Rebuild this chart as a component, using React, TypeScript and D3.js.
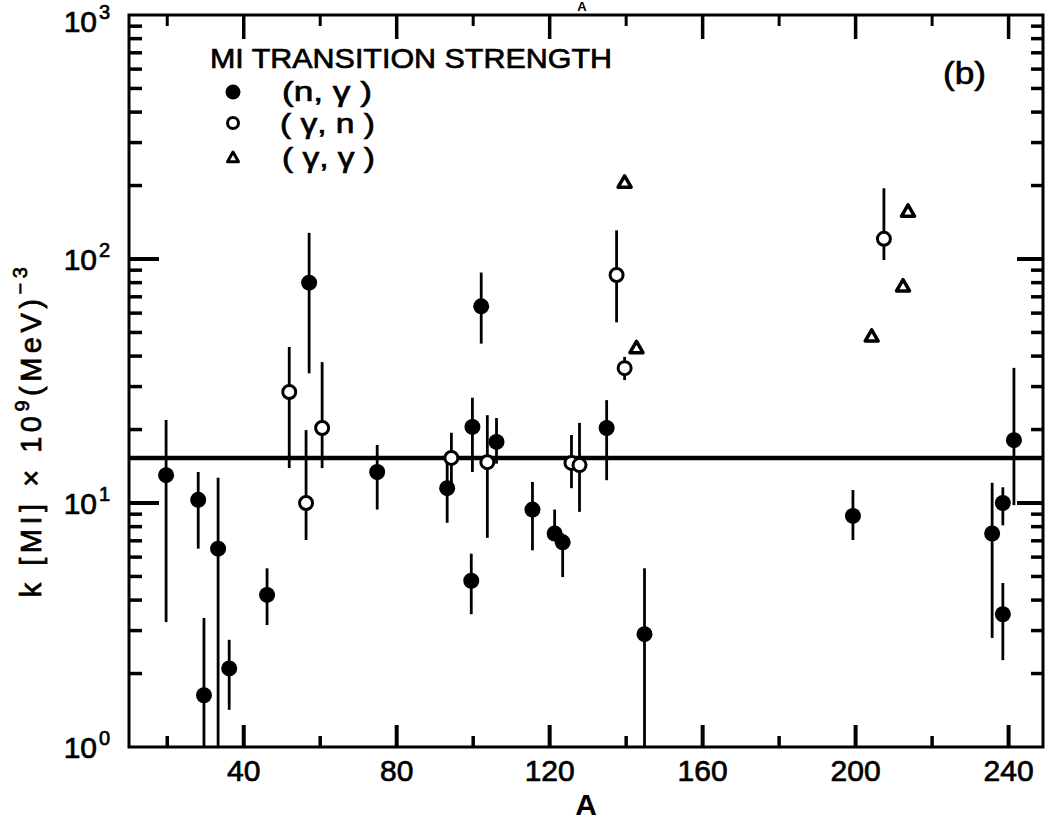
import React from "react";
import * as d3 from "d3";

const W = 1047;
const H = 822;

// (n,γ) — filled circles
const ngA = [19.7, 28.1, 29.6, 33.3, 36.2, 46.1, 57.1, 74.9, 93.2, 99.5, 99.8, 102.1, 106.1, 115.5, 121.3, 123.4, 134.9, 144.8, 199.3, 235.7, 238.5, 238.5, 241.4];
const ngK = [13.0, 10.3, 1.63, 6.5, 2.1, 4.2, 80, 13.4, 11.5, 4.8, 20.5, 64, 17.8, 9.4, 7.5, 6.9, 20.3, 2.9, 8.85, 7.5, 3.5, 10.0, 18.1];
const ngLo = [3.25, 6.5, 1.0, 1.0, 1.42, 3.16, 34, 9.4, 8.3, 3.5, 13.4, 45, 14.5, 6.4, 7.0, 4.97, 12.4, 1.0, 7.05, 2.8, 2.27, 8.1, 9.8];
const ngHi = [21.9, 13.4, 3.38, 12.7, 2.75, 5.4, 128, 17.3, 15.0, 6.2, 27, 88, 22.3, 12.2, 9.4, 7.5, 26.4, 5.4, 11.3, 12.1, 4.7, 11.6, 35.8];

// (γ,n) — open circles
const gnA = [51.9, 56.3, 60.5, 94.3, 103.7, 125.7, 127.8, 137.5, 139.6, 207.4];
const gnK = [28.5, 10.0, 20.3, 15.3, 14.7, 14.6, 14.3, 86, 35.7, 121];
const gnLo = [13.9, 7.05, 13.9, 12.1, 7.2, 11.5, 9.2, 55, 31.9, 99];
const gnHi = [43.6, 19.9, 37.8, 19.4, 22.9, 19.0, 21.3, 131, 39.7, 195];

// (γ,γ) — triangles
const ggA = [139.6, 142.7, 204.2, 212.4, 213.7];
const ggK = [205, 43, 48, 77, 156];

// average strength line
const meanK = 15.3;

const xMajor = [40, 80, 120, 160, 200, 240];
const xMinor = [20, 60, 100, 140, 180, 220];
const yDecades = [0, 1, 2, 3];

const FONT = "'Liberation Sans', Arial, sans-serif";
const INK = { fill: "#000", stroke: "#000", strokeWidth: 0.7 };

const x = d3.scaleLinear().domain([10, 249]).range([129, 1043]);
const y = d3.scaleLog().domain([1, 1000]).range([747, 15]);

function tri(cx: number, cy: number, s: number) {
  const h = s * 0.87;
  return `M${cx},${cy - h * 0.62}L${cx + s / 2},${cy + h * 0.38}L${cx - s / 2},${cy + h * 0.38}Z`;
}

export default function App() {
  const x0 = x.range()[0];
  const x1 = x.range()[1];
  const yb = y.range()[0];
  const yt = y.range()[1];

  const minorY: number[] = [];
  [1, 10, 100].forEach((d) => {
    for (let m = 2; m <= 9; m++) minorY.push(d * m);
  });

  return (
    <div style={{ position: "absolute", left: 0, top: 0 }}>
      <svg width={W} height={H} style={{ display: "block", background: "#fff" }}>
        {/* frame */}
        <rect x={x0} y={yt} width={x1 - x0} height={yb - yt} fill="none" stroke="#000" strokeWidth={3} />

        {/* x ticks, inward on bottom and top */}
        {xMajor.map((v) => (
          <g key={"xM" + v}>
            <line x1={x(v)} x2={x(v)} y1={yb} y2={yb - 22} stroke="#000" strokeWidth={4} />
            <line x1={x(v)} x2={x(v)} y1={yt} y2={yt + 24} stroke="#000" strokeWidth={3.5} />
            <text x={x(v)} y={781} textAnchor="middle" fontFamily={FONT} fontSize={30} {...INK}>
              {v}
            </text>
          </g>
        ))}
        {xMinor.map((v) => (
          <g key={"xm" + v}>
            <line x1={x(v)} x2={x(v)} y1={yb} y2={yb - 11} stroke="#000" strokeWidth={3.5} />
            <line x1={x(v)} x2={x(v)} y1={yt} y2={yt + 11} stroke="#000" strokeWidth={3} />
          </g>
        ))}

        {/* y ticks, inward on left and right */}
        {[10, 100].map((v) => (
          <g key={"yM" + v}>
            <line x1={x0} x2={x0 + 30} y1={y(v)} y2={y(v)} stroke="#000" strokeWidth={4} />
            <line x1={x1} x2={x1 - 26} y1={y(v)} y2={y(v)} stroke="#000" strokeWidth={4} />
          </g>
        ))}
        {minorY.map((v) => (
          <g key={"ym" + v}>
            <line x1={x0} x2={x0 + 13} y1={y(v)} y2={y(v)} stroke="#000" strokeWidth={3.5} />
            <line x1={x1} x2={x1 - 12} y1={y(v)} y2={y(v)} stroke="#000" strokeWidth={3.5} />
          </g>
        ))}

        {/* y tick labels */}
        {yDecades.map((p) => (
          <text
            key={"yl" + p}
            x={97}
            y={y(Math.pow(10, p)) + (p === 3 ? 17 : 11)}
            textAnchor="end"
            fontFamily={FONT}
            fontSize={30}
            {...INK}
          >
            10
            <tspan x={99} dy={-13} textAnchor="start" fontSize={20}>
              {p}
            </tspan>
          </text>
        ))}

        {/* axis titles */}
        <text x={586} y={815} textAnchor="middle" fontFamily={FONT} fontSize={30} fontWeight="bold">
          A
        </text>
        <text x={582} y={11} textAnchor="middle" fontFamily={FONT} fontSize={13} fontWeight="bold">
          A
        </text>
        <text
          transform="translate(41,430) rotate(-90)"
          textAnchor="middle"
          fontFamily={FONT}
          fontSize={29}
          letterSpacing={4.5}
          {...INK}
        >
          k [MI] × 10
          <tspan dy={-12} fontSize={20}>9</tspan>
          <tspan dy={12}>(MeV)</tspan>
          <tspan dy={-14} fontSize={20}>−3</tspan>
        </text>

        {/* mean strength line */}
        <line x1={x0} x2={x1} y1={y(meanK)} y2={y(meanK)} stroke="#000" strokeWidth={4.5} />

        {/* error bars */}
        {ngA.map((a, i) => (
          <line key={"ngE" + i} x1={x(a)} x2={x(a)} y1={y(ngLo[i])} y2={y(ngHi[i])} stroke="#000" strokeWidth={2.8} />
        ))}
        {gnA.map((a, i) => (
          <line key={"gnE" + i} x1={x(a)} x2={x(a)} y1={y(gnLo[i])} y2={y(gnHi[i])} stroke="#000" strokeWidth={2.8} />
        ))}

        {/* markers */}
        {ngA.map((a, i) => (
          <circle key={"ng" + i} cx={x(a)} cy={y(ngK[i])} r={8} fill="#000" />
        ))}
        {gnA.map((a, i) => (
          <circle key={"gn" + i} cx={x(a)} cy={y(gnK[i])} r={6.5} fill="#fff" stroke="#000" strokeWidth={3} />
        ))}
        {ggA.map((a, i) => (
          <path key={"gg" + i} d={tri(x(a), y(ggK[i]), 13)} fill="#fff" stroke="#000" strokeWidth={3.5} strokeLinejoin="round" />
        ))}

        {/* legend */}
        <text x={210} y={68} fontFamily={FONT} fontSize={28} textLength={402} lengthAdjust="spacingAndGlyphs" {...INK}>
          MI TRANSITION STRENGTH
        </text>
        <circle cx={233} cy={92} r={7.5} fill="#000" />
        <circle cx={233} cy={123} r={5.5} fill="#fff" stroke="#000" strokeWidth={3} />
        <path d={tri(233, 158, 11)} fill="#fff" stroke="#000" strokeWidth={3} strokeLinejoin="round" />
        <text x={282} y={101} fontFamily={FONT} fontSize={27} textLength={90} lengthAdjust="spacingAndGlyphs" {...INK}>
          (n, γ )
        </text>
        <text x={280} y={133} fontFamily={FONT} fontSize={27} textLength={95} lengthAdjust="spacingAndGlyphs" {...INK}>
          ( γ, n )
        </text>
        <text x={282} y={167} fontFamily={FONT} fontSize={27} textLength={93} lengthAdjust="spacingAndGlyphs" {...INK}>
          ( γ, γ )
        </text>
        <text x={943} y={84} fontFamily={FONT} fontSize={32} textLength={43} lengthAdjust="spacingAndGlyphs" {...INK}>
          (b)
        </text>
      </svg>
    </div>
  );
}
